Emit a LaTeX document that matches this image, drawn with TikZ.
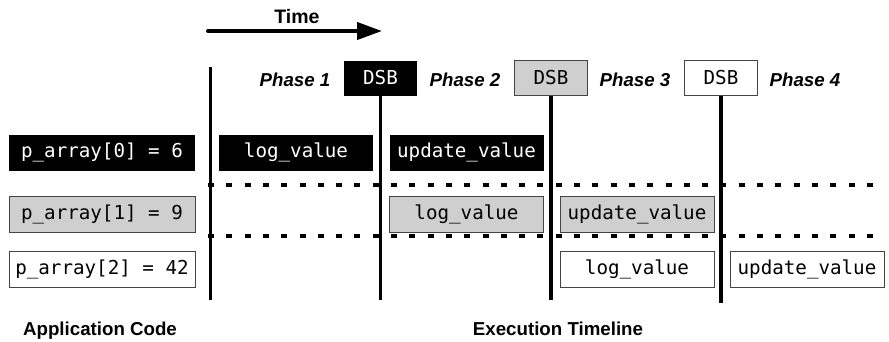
\documentclass[tikz,border=0pt]{standalone}
\usepackage{fontspec}
\setmainfont{Liberation Sans}
\newfontfamily\codefont{DejaVu Sans Mono}
\usetikzlibrary{arrows.meta}
\definecolor{boxgray}{HTML}{CFCFCF}
\definecolor{edgegray}{HTML}{444444}
\tikzset{
  code/.style={font=\codefont\fontsize{19.2}{21}\selectfont, inner sep=0pt,
    minimum height=36pt, anchor=center},
  blackbox/.style={code, fill=black, text=white},
  graybox/.style={code, fill=boxgray, draw=edgegray, line width=1pt},
  whitebox/.style={code, fill=white, draw=edgegray, line width=1pt},
  varw/.style={minimum width=186pt},
  taskw/.style={minimum width=154pt},
  dsbw/.style={minimum width=73pt, minimum height=35pt},
  phase/.style={font=\bfseries\itshape\fontsize{18.7}{20}\selectfont, anchor=base, inner sep=0pt},
  caption/.style={font=\bfseries\fontsize{18.7}{20}\selectfont, anchor=base, inner sep=0pt},
  barrier/.style={line width=3.3pt},
  rowsep/.style={line width=3.5pt, dash pattern=on 6pt off 12.3pt},
}
\begin{document}
\begin{tikzpicture}[x=1pt,y=-1pt]
\useasboundingbox (0,0) rectangle (889,341);

% time arrow
\node[caption, font=\bfseries\fontsize{19.5}{21}\selectfont] (time) at (297,23) {Time};
\coordinate (t0) at (208,31);
\coordinate (t1) at (382,31);
\draw[line width=4pt, line cap=round, -{Triangle[length=25pt,width=17pt,line cap=butt]}] (t0) -- (t1);

% array values
\node[blackbox, varw] (a0) at (102,152.5) {p\_array[0] = 6};
\node[graybox, varw]  (a1) at (102,214)   {p\_array[1] = 9};
\node[whitebox, varw] (a2) at (102,269.5) {p\_array[2] = 42};

% barriers
\node[blackbox, dsbw] (d1) at (380.5,78) {DSB};
\node[graybox, dsbw]  (d2) at (551,78)   {DSB};
\node[whitebox, dsbw] (d3) at (721,78)   {DSB};

% phase labels
\node[phase] (p1) at (295,86) {Phase 1};
\node[phase] (p2) at (465,86) {Phase 2};
\node[phase] (p3) at (635,86) {Phase 3};
\node[phase] (p4) at (805,86) {Phase 4};

% row separators
\coordinate (s1a) at (208,185);
\coordinate (s1b) at (882,185);
\coordinate (s2a) at (208,236);
\coordinate (s2b) at (882,236);
\draw[rowsep] (s1a) -- (s1b);
\draw[rowsep] (s2a) -- (s2b);

% timeline start and barrier lines
\coordinate (v0a) at (210.5,67);
\coordinate (v0b) at (210.5,300);
\coordinate (v1) at (380.5,300);
\coordinate (v2) at (551,300);
\coordinate (v3) at (721,303);
\draw[barrier] (v0a) -- (v0b);
\draw[barrier] (d1.south) -- (v1);
\draw[barrier] (d2.south) -- (v2);
\draw[barrier] (d3.south) -- (v3);

% tasks per row
\node[blackbox, taskw] (l0) at (296,152.5)   {log\_value};
\node[blackbox, taskw] (u0) at (466.5,152.5) {update\_value};
\node[graybox, taskw]  (l1) at (466.5,214)   {log\_value};
\node[graybox, taskw]  (u1) at (637,214)     {update\_value};
\node[whitebox, taskw] (l2) at (637,269.5)   {log\_value};
\node[whitebox, taskw] (u2) at (807,269.5)   {update\_value};

% captions
\node[caption] (appcode) at (100,335) {Application Code};
\node[caption] (exectl) at (558,335) {Execution Timeline};
\end{tikzpicture}
\end{document}
